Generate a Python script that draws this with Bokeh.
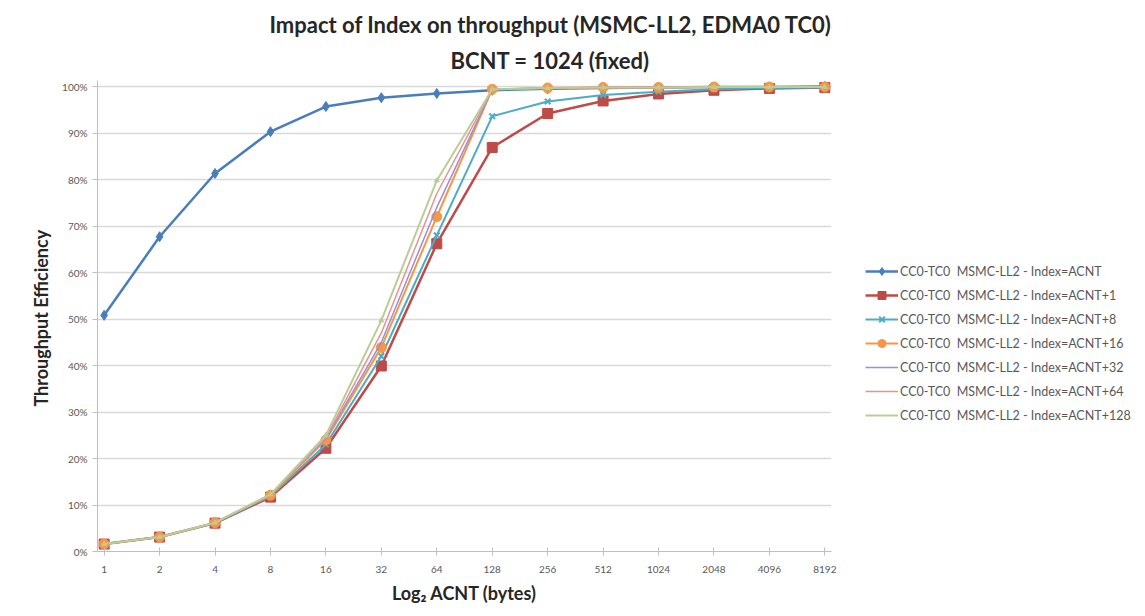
from bokeh.plotting import figure
from bokeh.layouts import row
from bokeh.models import (ColumnDataSource, FixedTicker, NumeralTickFormatter, Legend,
                          LegendItem, Title, Range1d)
from bokeh.embed import file_html
from bokeh.resources import INLINE

# ---- data ----
acnt_labels = ["1", "2", "4", "8", "16", "32", "64", "128", "256", "512",
               "1024", "2048", "4096", "8192"]
log2_acnt = list(range(len(acnt_labels)))

eff_acnt = [0.508, 0.677, 0.813, 0.903, 0.957, 0.976, 0.985, 0.992, 0.995, 0.997, 0.998, 0.999, 0.999, 1.000]
eff_p1 = [0.016, 0.031, 0.061, 0.117, 0.222, 0.399, 0.662, 0.869, 0.942, 0.969, 0.984, 0.992, 0.996, 0.998]
eff_p8 = [0.016, 0.031, 0.061, 0.119, 0.230, 0.420, 0.680, 0.936, 0.968, 0.982, 0.989, 0.994, 0.997, 0.998]
eff_p16 = [0.016, 0.031, 0.062, 0.121, 0.240, 0.439, 0.720, 0.994, 0.997, 0.998, 0.998, 0.999, 0.999, 0.999]
eff_p32 = [0.016, 0.031, 0.062, 0.122, 0.243, 0.450, 0.740, 0.994, 0.997, 0.998, 0.998, 0.999, 0.999, 0.999]
eff_p64 = [0.016, 0.031, 0.062, 0.122, 0.245, 0.470, 0.770, 0.994, 0.997, 0.998, 0.998, 0.999, 0.999, 0.999]
eff_p128 = [0.016, 0.031, 0.062, 0.123, 0.250, 0.497, 0.798, 0.994, 0.997, 0.998, 0.998, 0.999, 0.999, 0.999]

series_names = ["CC0-TC0  MSMC-LL2 - Index=ACNT",
                "CC0-TC0  MSMC-LL2 - Index=ACNT+1",
                "CC0-TC0  MSMC-LL2 - Index=ACNT+8",
                "CC0-TC0  MSMC-LL2 - Index=ACNT+16",
                "CC0-TC0  MSMC-LL2 - Index=ACNT+32",
                "CC0-TC0  MSMC-LL2 - Index=ACNT+64",
                "CC0-TC0  MSMC-LL2 - Index=ACNT+128"]
series_values = [eff_acnt, eff_p1, eff_p8, eff_p16, eff_p32, eff_p64, eff_p128]

# ---- styles ----
colors = ["#4A7EBB", "#BE4B48", "#4BACC6", "#F79646", "#9A8FD6", "#E69393", "#B9CE94"]
markers = ["diamond", "square", "x", "circle", None, None, None]
msizes = [10, 10, 8, 10, 0, 0, 0]
lwidths = [2.5, 2.5, 2.0, 2.0, 1.5, 1.5, 2.0]

FONT = "Lato"
TXT = "#595959"

p = figure(width=845, height=616, output_backend="svg", toolbar_location=None,
           x_range=Range1d(-0.12, 13.12), y_range=Range1d(0, 1.013),
           min_border_left=97, min_border_right=14, min_border_top=80, min_border_bottom=65,
           background_fill_color="white", border_fill_color="white")
p.outline_line_color = None
p.title.visible = False

# legend-only figure to the right of the chart; its view range excludes the data,
# so only the legend swatches are visible there
p2 = figure(width=300, height=616, output_backend="svg", toolbar_location=None,
            x_range=Range1d(-100, -99), y_range=Range1d(0, 1),
            min_border=0, background_fill_color="white", border_fill_color="white")
p2.outline_line_color = None
p2.axis.visible = False
p2.grid.visible = False
p2.title.visible = False

items = []
for name, vals, c, m, ms, lw in zip(series_names, series_values, colors, markers, msizes, lwidths):
    src = ColumnDataSource(dict(x=log2_acnt, y=vals))
    p.line("x", "y", source=src, line_color=c, line_width=lw)
    if m is not None:
        p.scatter("x", "y", source=src, marker=m, size=ms, fill_color=c,
                  line_color=c, line_width=2 if m == "x" else 1)
    rs = [p2.line("x", "y", source=src, line_color=c, line_width=lw)]
    if m is not None:
        rs.append(p2.scatter("x", "y", source=src, marker=m, size=ms, fill_color=c,
                             line_color=c, line_width=2 if m == "x" else 1))
    items.append(LegendItem(label=name, renderers=rs))

# small marks on the +128 series
src128 = ColumnDataSource(dict(x=log2_acnt, y=eff_p128))
p.scatter("x", "y", source=src128, marker="triangle", size=5, fill_color="#B9CE94",
          line_color="#B9CE94")

# axes
p.xaxis.ticker = FixedTicker(ticks=log2_acnt)
p.xaxis.major_label_overrides = {i: s for i, s in zip(log2_acnt, acnt_labels)}
p.xaxis.axis_label = "Log\u2082 ACNT (bytes)"
p.yaxis.ticker = FixedTicker(ticks=[i / 10 for i in range(11)])
p.yaxis.formatter = NumeralTickFormatter(format="0%")
p.yaxis.axis_label = "Throughput  Efficiency"
for ax in (p.xaxis, p.yaxis):
    ax.axis_line_color = "#BFBFBF"
    ax.major_tick_line_color = "#BFBFBF"
    ax.minor_tick_line_color = None
    ax.major_label_text_font = FONT
    ax.major_label_text_font_size = "10px"
    ax.major_label_text_color = TXT
    ax.axis_label_text_font = FONT
    ax.axis_label_text_font_size = "18px"
    ax.axis_label_text_font_style = "bold"
    ax.axis_label_text_color = "#262626"
p.xaxis.major_tick_in = 4
p.xaxis.major_tick_out = 4
p.xaxis.major_label_standoff = 10
p.yaxis.major_tick_in = 0
p.yaxis.major_tick_out = 5
p.xaxis.axis_label_standoff = 6
p.yaxis.axis_label_standoff = 7

p.xgrid.grid_line_color = None
p.ygrid.grid_line_color = "#D9D9D9"
p.ygrid.grid_line_width = 1.5

legend = Legend(items=items, location=(20, 126), orientation="vertical",
                label_text_font=FONT, label_text_font_size="12.5px", label_text_color=TXT,
                glyph_width=33, glyph_height=20, label_height=20, spacing=4,
                label_standoff=2, padding=0, margin=0, border_line_color=None,
                background_fill_alpha=0)
p2.add_layout(legend, "center")

sub = Title(text="BCNT = 1024 (fixed)", align="left", offset=353,
            text_font=FONT, text_font_size="22px", text_font_style="bold", text_color="#262626",
            standoff=14)
main = Title(text="Impact of Index on throughput (MSMC-LL2, EDMA0 TC0)", align="left", offset=172,
             text_font=FONT, text_font_size="22px", text_font_style="bold", text_color="#262626",
             standoff=0)
p.add_layout(sub, "above")
p.add_layout(main, "above")

layout = row(p, p2, spacing=0)
open("out.html", "w").write(file_html(layout, INLINE))
